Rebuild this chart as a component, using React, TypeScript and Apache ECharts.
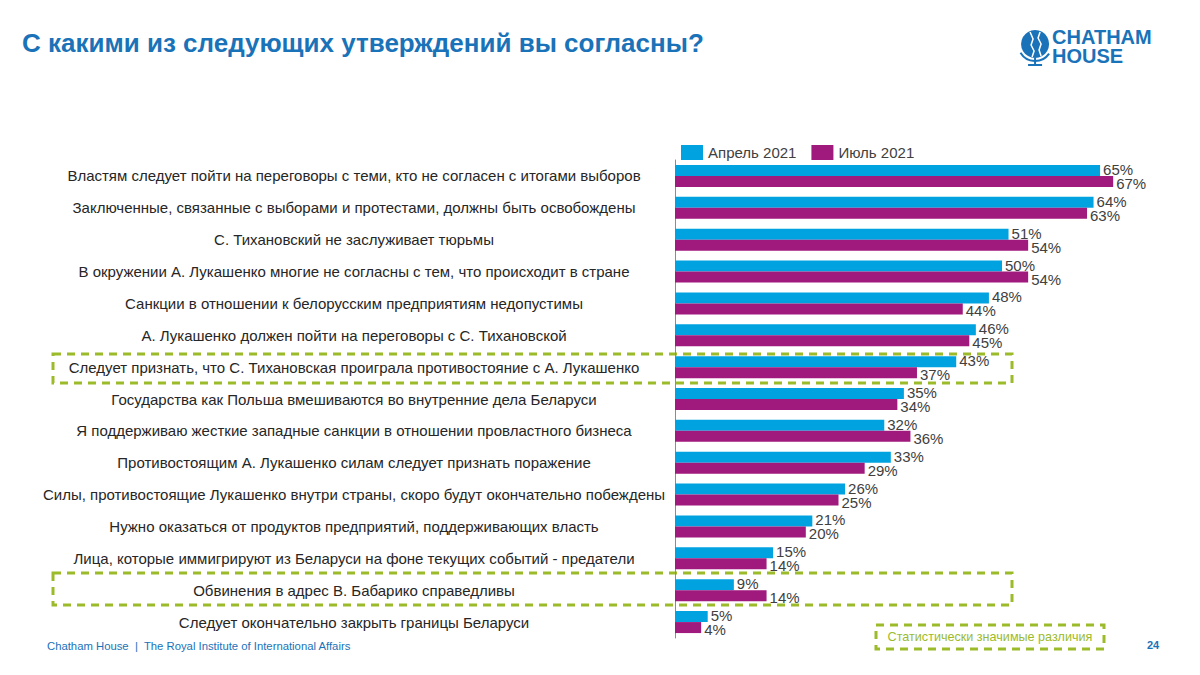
import React, { useEffect, useRef } from "react";
import * as echarts from "echarts";

const categories = [
  "Властям следует пойти на переговоры с теми, кто не согласен с итогами выборов",
  "Заключенные, связанные с выборами и протестами, должны быть освобождены",
  "С. Тихановский не заслуживает тюрьмы",
  "В окружении А. Лукашенко многие не согласны с тем, что происходит в стране",
  "Санкции в отношении к белорусским предприятиям недопустимы",
  "А. Лукашенко должен пойти на переговоры с С. Тихановской",
  "Следует признать, что С. Тихановская проиграла противостояние с А. Лукашенко",
  "Государства как Польша вмешиваются во внутренние дела Беларуси",
  "Я поддерживаю жесткие западные санкции в отношении провластного бизнеса",
  "Противостоящим А. Лукашенко силам следует признать поражение",
  "Силы, противостоящие Лукашенко внутри страны, скоро будут окончательно побеждены",
  "Нужно оказаться от продуктов предприятий, поддерживающих власть",
  "Лица, которые иммигрируют из Беларуси на фоне текущих событий - предатели",
  "Обвинения в адрес В. Бабарико справедливы",
  "Следует окончательно закрыть границы Беларуси",
];
const april2021 = [65, 64, 51, 50, 48, 46, 43, 35, 32, 33, 26, 21, 15, 9, 5];
const july2021 = [67, 63, 54, 54, 44, 45, 37, 34, 36, 29, 25, 20, 14, 14, 4];
const seriesNames = ["Апрель 2021", "Июль 2021"];

const BLUE = "#00a3e0";
const PURPLE = "#a0197c";
const GREEN = "#9cbb2a";
const TITLE_BLUE = "#1a72b8";
const FONT = "'Liberation Sans', Arial, sans-serif";

export default function App() {
  const ref = useRef<HTMLDivElement>(null);
  useEffect(() => {
    const chart = echarts.init(ref.current!, null, { renderer: "svg" });
    const label = (dy: number) => ({
      show: true,
      position: "right" as const,
      distance: 3,
      offset: [0, dy],
      formatter: "{c}%",
      color: "#404040",
      fontSize: 15,
      fontFamily: FONT,
    });
    chart.setOption({
      animation: false,
      backgroundColor: "#ffffff",
      textStyle: { fontFamily: FONT },
      legend: {
        left: 676,
        top: 140,
        itemWidth: 22,
        itemHeight: 15,
        itemGap: 15,
        icon: "rect",
        textStyle: { fontSize: 15, color: "#404040", fontFamily: FONT },
        data: seriesNames,
      },
      grid: { left: 675, top: 160, width: 457.8, height: 478, containLabel: false },
      xAxis: {
        type: "value",
        min: 0,
        max: 70,
        show: false,
      },
      yAxis: {
        type: "category",
        inverse: true,
        data: categories,
        axisLine: { show: true, lineStyle: { color: "#8c8c8c", width: 1 } },
        axisTick: { show: false },
        axisLabel: {
          align: "center",
          margin: 321,
          fontSize: 15,
          color: "#262626",
          fontFamily: FONT,
        },
      },
      series: [
        {
          name: seriesNames[0],
          type: "bar",
          data: april2021,
          barWidth: 11,
          barGap: "0%",
          itemStyle: { color: BLUE },
          label: label(-1),
        },
        {
          name: seriesNames[1],
          type: "bar",
          data: july2021,
          barWidth: 11,
          barGap: "0%",
          itemStyle: { color: PURPLE },
          label: label(2),
        },
      ],
      graphic: [
        {
          type: "text",
          left: 22,
          top: 30,
          style: {
            text: "С какими из следующих утверждений вы согласны?",
            fontSize: 26,
            fontWeight: "bold",
            fill: TITLE_BLUE,
            fontFamily: FONT,
          },
        },
        {
          type: "group",
          left: 1018,
          top: 27,
          children: [
            { type: "circle", shape: { cx: 15, cy: 17, r: 14 }, style: { fill: TITLE_BLUE } },
            { type: "line", shape: { x1: 15, y1: 31, x2: 15, y2: 37 }, style: { stroke: TITLE_BLUE, lineWidth: 2 } },
            { type: "line", shape: { x1: 8, y1: 38, x2: 22, y2: 38 }, style: { stroke: TITLE_BLUE, lineWidth: 2 } },
            { type: "arc", shape: { cx: 15, cy: 17, r: 17, startAngle: 0.6, endAngle: 2.6 }, style: { stroke: TITLE_BLUE, lineWidth: 2, fill: "none" } },
            { type: "polyline", shape: { points: [[10, 5], [13, 12], [11, 18], [14, 24], [12, 30]] }, style: { stroke: "#ffffff", lineWidth: 1.5, fill: "none" } },
            { type: "polyline", shape: { points: [[20, 5], [18, 11], [21, 17], [19, 23], [21, 29]] }, style: { stroke: "#ffffff", lineWidth: 1.5, fill: "none" } },
            {
              type: "text",
              x: 32,
              y: 0,
              style: { text: "CHATHAM", fontSize: 20, fontWeight: "bold", fill: TITLE_BLUE, fontFamily: FONT },
            },
            {
              type: "text",
              x: 32,
              y: 19,
              style: { text: "HOUSE", fontSize: 20, fontWeight: "bold", fill: TITLE_BLUE, fontFamily: FONT },
            },
          ],
        },
        {
          type: "rect",
          shape: { x: 53, y: 354, width: 959, height: 29 },
          style: { fill: "none", stroke: GREEN, lineWidth: 3, lineDash: [8, 6] },
        },
        {
          type: "rect",
          shape: { x: 53, y: 573, width: 959, height: 32 },
          style: { fill: "none", stroke: GREEN, lineWidth: 3, lineDash: [8, 6] },
        },
        {
          type: "rect",
          shape: { x: 876, y: 625, width: 228, height: 24 },
          style: { fill: "none", stroke: GREEN, lineWidth: 3, lineDash: [8, 6] },
        },
        {
          type: "text",
          x: 990,
          y: 637,
          style: {
            text: "Статистически значимые различия",
            fontSize: 12.6,
            fill: GREEN,
            fontFamily: FONT,
            align: "center",
            verticalAlign: "middle",
          },
        },
        {
          type: "text",
          x: 47,
          y: 646,
          style: {
            text: "Chatham House  |  The Royal Institute of International Affairs",
            fontSize: 11.3,
            fill: TITLE_BLUE,
            fontFamily: FONT,
            verticalAlign: "middle",
          },
        },
        {
          type: "text",
          x: 1147,
          y: 645,
          style: {
            text: "24",
            fontSize: 11,
            fontWeight: "bold",
            fill: TITLE_BLUE,
            fontFamily: FONT,
            verticalAlign: "middle",
          },
        },
      ],
    });
    return () => chart.dispose();
  }, []);
  return <div ref={ref} style={{ width: 1200, height: 675, position: "absolute", left: 0, top: 0 }} />;
}
